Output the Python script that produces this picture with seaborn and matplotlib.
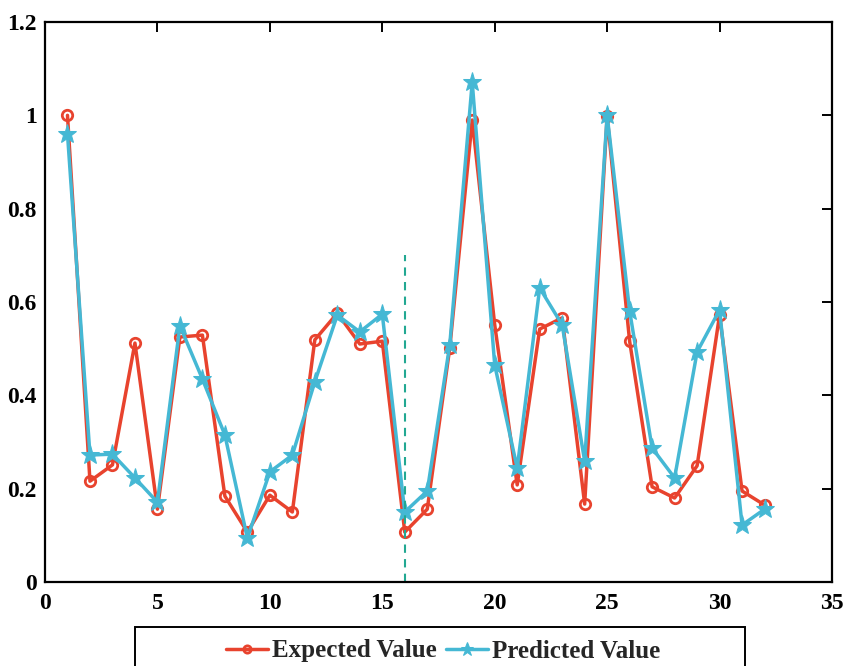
import numpy as np
import pandas as pd
import matplotlib
matplotlib.use("Agg")
import matplotlib.pyplot as plt
from matplotlib.patches import Rectangle
import seaborn as sns

sample_index = list(range(1, 33))
expected_value = [1.0, 0.216, 0.251, 0.512, 0.156, 0.525, 0.529, 0.184, 0.107, 0.186,
                  0.150, 0.519, 0.576, 0.510, 0.516, 0.107, 0.156, 0.501, 0.990, 0.551,
                  0.208, 0.542, 0.566, 0.167, 0.998, 0.516, 0.204, 0.180, 0.249, 0.572,
                  0.195, 0.165]
predicted_value = [0.960, 0.272, 0.274, 0.223, 0.171, 0.549, 0.435, 0.315, 0.094, 0.236,
                   0.272, 0.429, 0.572, 0.536, 0.574, 0.150, 0.195, 0.508, 1.071, 0.465,
                   0.244, 0.630, 0.551, 0.259, 1.000, 0.581, 0.287, 0.223, 0.493, 0.583,
                   0.122, 0.156]
series_names = ["Expected Value", "Predicted Value"]
split_x = 16
split_top = 0.70
x_ticks = [0, 5, 10, 15, 20, 25, 30, 35]
y_ticks = [0, 0.2, 0.4, 0.6, 0.8, 1.0, 1.2]
y_tick_labels = ["0", "0.2", "0.4", "0.6", "0.8", "1", "1.2"]

sns.set_style("white")
plt.rcParams["font.family"] = ["Liberation Serif", "DejaVu Serif"]
plt.rcParams["font.weight"] = "bold"

W, H = 845, 666
fig = plt.figure(figsize=(W / 100, H / 100), dpi=100)
ax = fig.add_axes([45 / W, 1 - 582 / H, (832 - 45) / W, (582 - 22) / H])

red = "#e8432e"
cyan = "#45b8d4"

df_e = pd.DataFrame({"x": sample_index, "y": expected_value})
df_p = pd.DataFrame({"x": sample_index, "y": predicted_value})

sns.lineplot(data=df_e, x="x", y="y", ax=ax, color=red, lw=2.5, marker="o",
             markersize=7.5, markerfacecolor="none", markeredgecolor=red,
             markeredgewidth=2.0, label=series_names[0], legend=False)
sns.lineplot(data=df_p, x="x", y="y", ax=ax, color=cyan, lw=2.5, marker="*",
             markersize=14, markerfacecolor=cyan, markeredgecolor=cyan,
             label=series_names[1], legend=False)

ax.vlines(split_x, 0, split_top, colors="#22a892", linestyles=(0, (4, 3)), lw=1.5)

ax.set_xlim(0, 35)
ax.set_ylim(0, 1.2)
ax.set_xticks(x_ticks)
ax.set_xticklabels([str(t) for t in x_ticks])
ax.set_yticks(y_ticks)
ax.set_yticklabels(y_tick_labels)
ax.set_xlabel("")
ax.set_ylabel("")
ax.tick_params(direction="in", length=7, width=1.4, top=True, right=True,
               labelsize=17, pad=6, colors="black")
ax.tick_params(axis="x", pad=8)
for lab in ax.get_xticklabels() + ax.get_yticklabels():
    lab.set_fontweight("bold")
for s in ax.spines.values():
    s.set_visible(True)
    s.set_color("black")
    s.set_linewidth(1.6)

# legend box (extends beyond bottom edge as in reference)
fig.patches.append(Rectangle((135 / W, -0.05), (745 - 135) / W, 0.05 + 1 - 627 / H,
                             transform=fig.transFigure, fill=False, ec="black", lw=1.4))
handles, labels = ax.get_legend_handles_labels()
fig.legend(handles, labels, loc="center", bbox_to_anchor=(443 / W, 1 - 651 / H),
           bbox_transform=fig.transFigure, ncol=2, frameon=False,
           handlelength=1.7, handletextpad=0.15, columnspacing=0.35,
           markerscale=0.7, prop={"size": 18, "weight": "bold"})

fig.savefig("out.png", dpi=100, facecolor="white")
